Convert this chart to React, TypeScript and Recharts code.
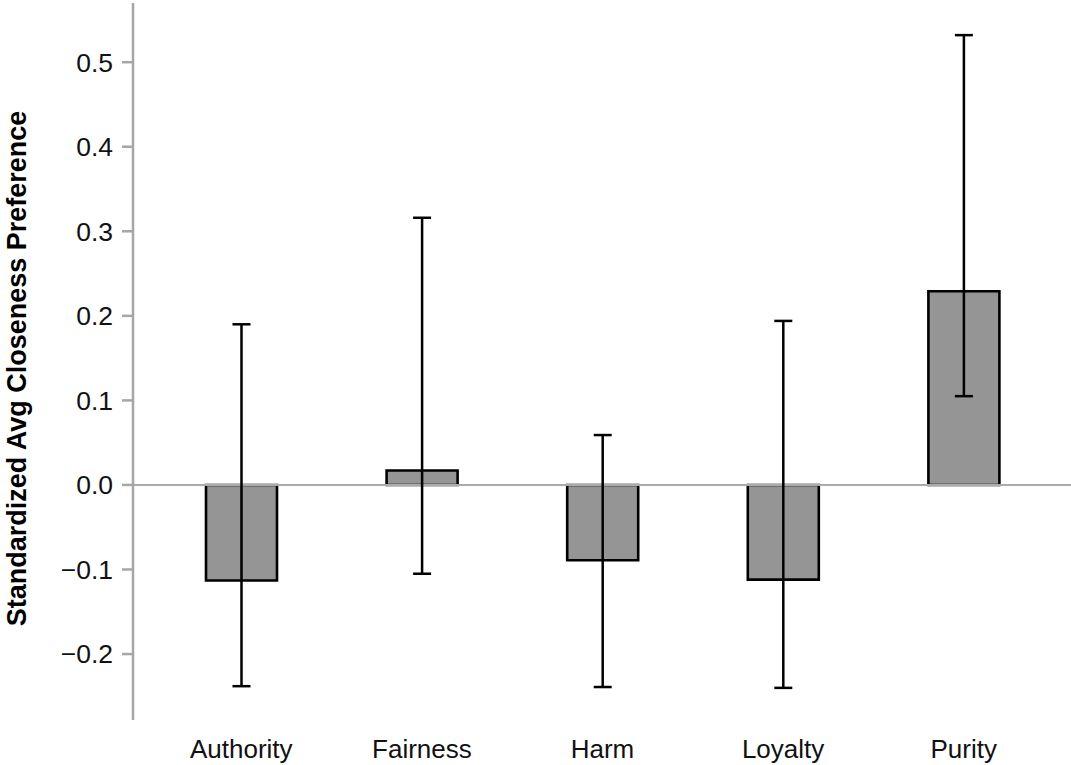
import React from 'react';
import {
  BarChart,
  Bar,
  XAxis,
  YAxis,
  ErrorBar,
  ReferenceLine,
} from 'recharts';

// Moral foundations and their standardized closeness preference (mean with CI bounds)
const foundations = ['Authority', 'Fairness', 'Harm', 'Loyalty', 'Purity'];
const meanValues = [-0.113, 0.017, -0.089, -0.112, 0.229];
const ciLower = [-0.238, -0.105, -0.239, -0.24, 0.105];
const ciUpper = [0.19, 0.316, 0.059, 0.194, 0.532];
const yTicks = [-0.2, -0.1, 0, 0.1, 0.2, 0.3, 0.4, 0.5];

const data = foundations.map((name, i) => ({
  name,
  value: meanValues[i],
  err: [meanValues[i] - ciLower[i], ciUpper[i] - meanValues[i]],
}));

const FONT = 'Liberation Sans, Arial, Helvetica, sans-serif';

const YLabel = (props: any) => {
  const vb = props.viewBox || {};
  const cy = (vb.y ?? 0) + (vb.height ?? 0) / 2 + 7;
  const x = 26;
  return (
    <text
      x={x}
      y={cy}
      transform={`rotate(-90, ${x}, ${cy})`}
      textAnchor="middle"
      fontFamily={FONT}
      fontWeight="bold"
      fontSize={27}
      fill="#000"
    >
      Standardized Avg Closeness Preference
    </text>
  );
};

export default function App() {
  return (
    <div style={{ position: 'absolute', left: 0, top: 0, background: '#fff' }}>
      <BarChart
        width={1071}
        height={765}
        data={data}
        margin={{ top: 3, right: 0, bottom: 0, left: 0 }}
      >
        <XAxis
          dataKey="name"
          axisLine={false}
          tickLine={false}
          tickSize={0}
          tickMargin={20}
          height={45}
          padding={{ left: 18, right: 17 }}
          tick={{ fontSize: 26, fill: '#111', fontFamily: FONT }}
          interval={0}
        />
        <YAxis
          width={133}
          type="number"
          domain={[-0.278, 0.57]}
          allowDataOverflow
          ticks={yTicks}
          tickFormatter={(v: number) => (v < 0 ? `\u2212${Math.abs(v).toFixed(1)}` : v.toFixed(1))}
          tickSize={11}
          tickMargin={9}
          axisLine={{ stroke: '#a6a6a6', strokeWidth: 2.5 }}
          tickLine={{ stroke: '#a6a6a6', strokeWidth: 2.5 }}
          tick={{ fontSize: 26.5, fill: '#111', fontFamily: FONT }}
          label={<YLabel />}
        />
        <ReferenceLine y={0} stroke="#ababab" strokeWidth={2} />
        <Bar
          dataKey="value"
          fill="#959595"
          stroke="#000"
          strokeWidth={2.6}
          barSize={71}
          isAnimationActive={false}
        >
          <ErrorBar dataKey="err" width={9} stroke="#000" strokeWidth={2.5} direction="y" />
        </Bar>
      </BarChart>
    </div>
  );
}
